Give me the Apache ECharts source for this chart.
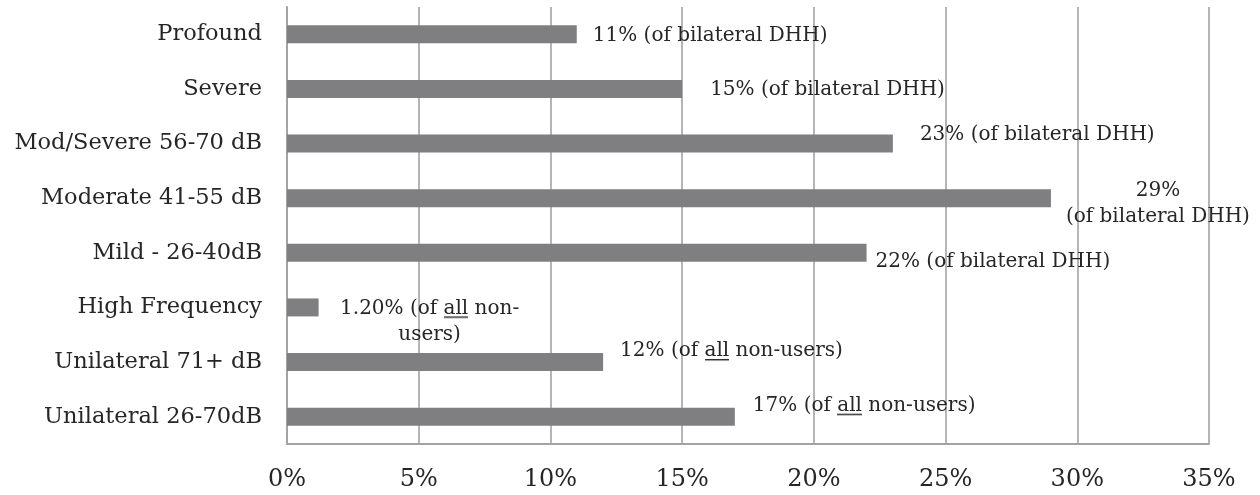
<!DOCTYPE html>
<html>
<head>
<meta charset="utf-8">
<script src="https://cdn.jsdelivr.net/npm/echarts@6/dist/echarts.min.js"></script>
<style>
  html, body { margin: 0; padding: 0; background: #ffffff; }
  #chart { width: 1260px; height: 495px; }
</style>
</head>
<body>
<div id="chart"></div>
<script>
// Hearing-loss categories, listed top to bottom
const categories = [
  'Profound',
  'Severe',
  'Mod/Severe 56-70 dB',
  'Moderate 41-55 dB',
  'Mild - 26-40dB',
  'High Frequency',
  'Unilateral 71+ dB',
  'Unilateral 26-70dB'
];
// Share of non-users (%) in each category
const values = [11, 15, 23, 29, 22, 1.2, 12, 17];
// Decimal places shown in each value label
const valueDecimals = [0, 0, 0, 0, 0, 2, 0, 0];
// Reference group that each percentage is taken of
const baseGroups = ['bilateral', 'bilateral', 'bilateral', 'bilateral', 'bilateral', 'all', 'all', 'all'];
// Value-axis tick labels
const tickLabels = ['0%', '5%', '10%', '15%', '20%', '25%', '30%', '35%'];

const FONT = 'DejaVu Serif';
const TEXT = '#262626';
const BAR = '#7f7f81';
const GRIDLINE = '#a3a3a3';

// Small canvas stretched behind a rich-text token to draw an underline
function underlineImage() {
  const c = document.createElement('canvas');
  c.width = 8; c.height = 24;
  const g = c.getContext('2d');
  g.fillStyle = TEXT;
  g.fillRect(0, 20, 8, 1.4);
  return c;
}
const underline = underlineImage();

// Per-label placement next to each bar end: [dx, dy], alignment and line wrap
const labelPlacement = [
  { offset: [16, 1] },
  { offset: [28, 1] },
  { offset: [27, -9] },
  { offset: [107, 6] , align: 'center', wrap: true },
  { offset: [9, 9] },
  { offset: [111, 14], align: 'center', wrap: true },
  { offset: [17, -11] },
  { offset: [18, -11] }
];

function labelText(i) {
  const v = values[i].toFixed(valueDecimals[i]) + '%';
  const wrap = labelPlacement[i].wrap;
  if (baseGroups[i] === 'bilateral') {
    return v + (wrap ? '\n' : ' ') + '(of bilateral DHH)';
  }
  return v + ' (of {u|all} non-' + (wrap ? '\n' : '') + 'users)';
}

const seriesData = values.map((v, i) => {
  const p = labelPlacement[i];
  const label = { offset: p.offset, formatter: labelText(i) };
  if (p.align) {
    label.align = p.align;
  }
  return { value: v, label: label };
});

const chart = echarts.init(document.getElementById('chart'), null, { renderer: 'canvas' });

chart.setOption({
  animation: false,
  backgroundColor: '#ffffff',
  grid: { left: 287, right: 51, top: 7, bottom: 51, outerBoundsMode: 'none' },
  xAxis: {
    type: 'value',
    min: 0,
    max: 35,
    interval: 5,
    axisLine: { show: true, lineStyle: { color: GRIDLINE, width: 2 } },
    axisTick: { show: false },
    splitLine: { show: true, lineStyle: { color: GRIDLINE, width: 1.6 } },
    axisLabel: {
      margin: 24,
      fontFamily: FONT,
      fontSize: 24,
      color: TEXT,
      formatter: (val) => tickLabels[Math.round(val / 5)]
    }
  },
  yAxis: {
    type: 'category',
    data: categories,
    inverse: true,
    axisLine: { show: true, lineStyle: { color: GRIDLINE, width: 2 } },
    axisTick: { show: false },
    splitLine: { show: false },
    axisLabel: {
      margin: 25,
      fontFamily: FONT,
      fontSize: 22.5,
      color: TEXT
    }
  },
  series: [{
    type: 'bar',
    data: seriesData,
    barWidth: 18,
    itemStyle: { color: BAR },
    label: {
      show: true,
      position: 'right',
      distance: 0,
      fontFamily: FONT,
      fontSize: 20,
      color: TEXT,
      lineHeight: 26,
      rich: {
        u: {
          fontFamily: FONT,
          fontSize: 20,
          color: TEXT,
          lineHeight: 26,
          height: 24,
          backgroundColor: { image: underline }
        }
      }
    }
  }]
});
</script>
</body>
</html>
